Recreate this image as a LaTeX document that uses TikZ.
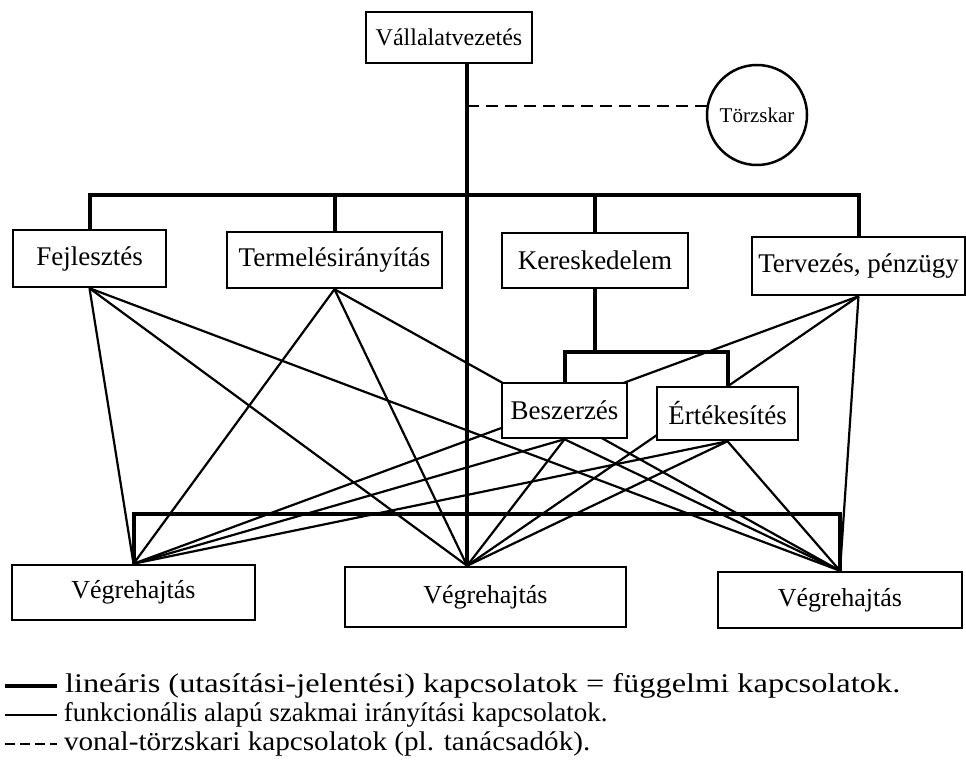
\documentclass[tikz,border=0pt]{standalone}
\usepackage{fontspec}
\setmainfont{Liberation Serif}
\usetikzlibrary{calc, backgrounds}

\begin{document}
\begin{tikzpicture}[x=1pt, y=-1pt,
  unit/.style={draw, line width=2.5pt, fill=white, inner sep=0pt, font=\fontsize{27}{30}\selectfont},
  lin/.style={line width=4pt},
  fun/.style={line width=2.2pt},
  staff/.style={line width=2.4pt, dash pattern=on 12pt off 7pt},
  legend/.style={anchor=west, inner sep=0pt, xshift=6pt, font=\fontsize{27}{30}\selectfont}]
  \useasboundingbox (0,0) rectangle (966,767);
  \node[unit, minimum width=166pt, minimum height=51pt, font=\fontsize{24}{27}\selectfont] (vezetes) at (449,37.5) {Vállalatvezetés};
  \node[unit, circle, minimum size=100pt, font=\fontsize{21}{24}\selectfont] (torzskar) at (757,115) {Törzskar};
  \node[unit, minimum width=153pt, minimum height=57pt] (fejl) at (89.5,258.5) {Fejlesztés};
  \node[unit, minimum width=215pt, minimum height=56pt] (term) at (334.5,260) {Termelésirányítás};
  \node[unit, minimum width=186pt, minimum height=55pt] (keresk) at (595,260.5) {Kereskedelem};
  \node[unit, minimum width=213pt, minimum height=58pt] (terv) at (858.5,266) {Tervezés, pénzügy};
  \node[unit, minimum width=125pt, minimum height=55pt] (besz) at (564.5,410.5) {Beszerzés};
  \node[unit, minimum width=141pt, minimum height=53pt] (ertek) at (727.5,413.5) {Értékesítés};
  \node[unit, minimum width=243pt, minimum height=55pt, font=\fontsize{26}{29}\selectfont] (vegr1) at (133.5,592.5) {Végrehajtás};
  \node[unit, minimum width=281pt, minimum height=60pt, font=\fontsize{26}{29}\selectfont] (vegr2) at (485.5,597) {Végrehajtás};
  \node[unit, minimum width=244pt, minimum height=56pt, font=\fontsize{26}{29}\selectfont] (vegr3) at (840,600) {Végrehajtás};
  \coordinate (j2) at ($(vegr2.north west)!0.435!(vegr2.north east)$);
  \coordinate (topbus) at (0,195);
  \coordinate (subbus) at (0,352);
  \coordinate (lowbus) at (0,514);
  \begin{pgfonlayer}{background}
    \fill[white] (0,0) rectangle (966,767);
    \foreach \src in {fejl, term, terv, besz, ertek}
      \foreach \dst in {vegr1.north, j2, vegr3.north}
        \draw[fun] (\src.south) -- (\dst);
    \draw[lin] (vezetes.south -| j2) -- (j2);
    \draw[lin] (fejl.north) -- (fejl.north |- topbus) -- (terv.north |- topbus) -- (terv.north);
    \draw[lin] (term.north) -- (term.north |- topbus);
    \draw[lin] (keresk.north) -- (keresk.north |- topbus);
    \draw[lin] (keresk.south) -- (keresk.south |- subbus);
    \draw[lin] (besz.north) -- (besz.north |- subbus) -- (ertek.north |- subbus) -- (ertek.north);
    \draw[lin] (vegr1.north) -- (vegr1.north |- lowbus) -- (vegr3.north |- lowbus) -- (vegr3.north);
    \draw[staff] (torzskar.170) -- (torzskar.170 -| j2);
  \end{pgfonlayer}
  \coordinate (key1) at (5,686);
  \coordinate (key2) at (5,715);
  \coordinate (key3) at (5,744);
  \draw[lin] (key1) -- ++(52,0) node[legend] (note1) {\scalebox{1.2}[1]{lineáris (utasítási-jelentési) kapcsolatok = függelmi kapcsolatok.}};
  \draw[line width=1.8pt] (key2) -- ++(52,0) node[legend] (note2) {funkcionális alapú szakmai irányítási kapcsolatok.};
  \draw[line width=2pt, dash pattern=on 10pt off 5pt] (key3) -- ++(52,0) node[legend] (note3) {\scalebox{1.08}[1]{vonal-törzskari kapcsolatok (pl. tanácsadók).}};
\end{tikzpicture}
\end{document}
